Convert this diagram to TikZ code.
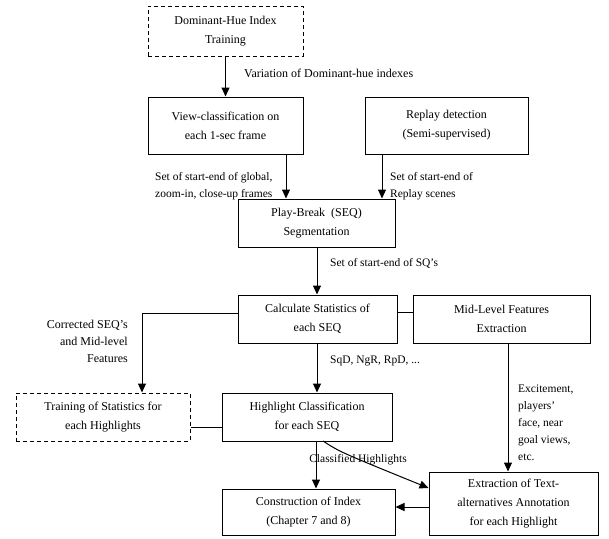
\documentclass[tikz,border=0pt]{standalone}
\usepackage{fontspec}
\setmainfont{Liberation Serif}
\usetikzlibrary{arrows.meta}
\begin{document}
\begin{tikzpicture}[x=1pt,y=-1pt,
  box/.style={draw, line width=1pt, align=center, inner sep=0pt, font=\fontsize{12}{19}\selectfont},
  dbox/.style={box, dash pattern=on 4pt off 3pt},
  lbl/.style={font=\fontsize{11.5}{17}\selectfont, inner sep=0pt},
  arr/.style={-{Triangle[width=8pt,length=9pt]}, line width=1pt},
  ln/.style={line width=1pt}]
\useasboundingbox (0,0) rectangle (609,538);
% boxes
\node[dbox, minimum width=155pt, minimum height=50pt] (dom) at (225.5,31) {Dominant-Hue Index\\Training};
\node[box, minimum width=155pt, minimum height=57pt] (view) at (225.5,125.5) {View-classification on\\each 1-sec frame};
\node[box, minimum width=163pt, minimum height=57pt] (rep) at (446.5,125.5) {Replay detection\\(Semi-supervised)};
\node[box, minimum width=157pt, minimum height=48pt] (pb) at (316.5,223) {Play-Break\ \ (SEQ)\\Segmentation};
\node[box, minimum width=159pt, minimum height=48pt] (calc) at (317.5,319) {Calculate Statistics of\\each SEQ};
\node[box, minimum width=177pt, minimum height=48pt] (mid) at (501.5,319) {Mid-Level Features\\Extraction};
\node[dbox, minimum width=174pt, minimum height=48pt] (train) at (103,417) {Training of Statistics for\\each Highlights};
\node[box, minimum width=170pt, minimum height=48pt] (hl) at (307,417) {Highlight Classification\\for each SEQ};
\node[box, minimum width=173pt, minimum height=46pt] (cons) at (308.5,512) {Construction of Index\\(Chapter 7 and 8)};
\node[box, minimum width=169pt, minimum height=63pt] (ext) at (513.5,503.5) {Extraction of Text-\\alternatives Annotation\\for each Highlight};
% connectors
\draw[arr] (dom.south) -- (view.north);
\draw[arr] (286,0 |- view.south) -- (286,0 |- pb.north);
\draw[arr] (382,0 |- rep.south) -- (382,0 |- pb.north);
\draw[arr] (317,0 |- pb.south) -- (317,0 |- calc.north);
\draw[arr] (317,0 |- calc.south) -- (317,0 |- hl.north);
\coordinate (cl) at (142,313);
\draw[arr] (calc.west |- cl) -- (cl) -- (cl |- train.north);
\draw[ln] (calc.east |- 0,312) -- (mid.west |- 0,312);
\draw[ln] (train.east |- 0,427) -- (hl.west |- 0,427);
\draw[arr] (508,0 |- mid.south) -- (508,0 |- ext.north);
\draw[arr] (316,0 |- hl.south) -- (316,0 |- cons.north);
\coordinate (cs) at (323,441);
\draw[arr] (cs) .. controls (340,452) .. (ext.west |- 0,488);
\draw[arr] (ext.west |- 0,507) -- (cons.east |- 0,507);
% labels
\node[lbl, font=\fontsize{12}{17}\selectfont, anchor=west] (l1) at (244,73) {Variation of Dominant-hue indexes};
\node[lbl, anchor=north west, align=left] (l2) at (155,172) {Set of start-end of global,\\zoom-in, close-up frames};
\node[lbl, anchor=north west, align=left] (l3) at (390,172) {Set of start-end of\\Replay scenes};
\node[lbl, anchor=west] (l4) at (330,263) {Set of start-end of SQ's};
\node[lbl, font=\fontsize{12}{17}\selectfont, anchor=north east, align=right] (l5) at (128,320) {Corrected SEQ's\\and Mid-level\\Features};
\node[lbl, anchor=west] (l6) at (330,361) {SqD, NgR, RpD, ...};
\node[lbl, anchor=north west, align=left] (l7) at (518,385) {Excitement,\\players'\\face, near\\goal views,\\etc.};
\node[lbl] (l8) at (358,460) {Classified Highlights};
\end{tikzpicture}
\end{document}
